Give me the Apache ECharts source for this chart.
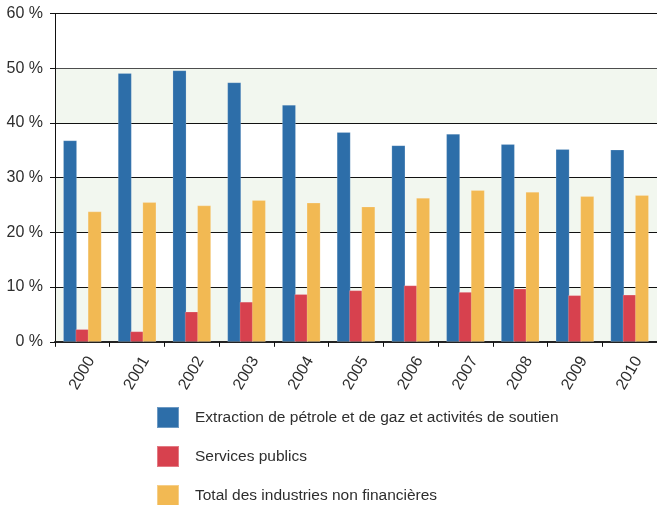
<!DOCTYPE html>
<html>
<head>
<meta charset="utf-8">
<script src="https://cdn.jsdelivr.net/npm/echarts@6/dist/echarts.min.js"></script>
<style>
  html, body { margin: 0; padding: 0; background: #fff; }
  #chart { width: 657px; height: 505px; }
</style>
</head>
<body>
<div id="chart"></div>
<script>
// Share of each sector, per year (%)
const years = ['2000', '2001', '2002', '2003', '2004', '2005', '2006', '2007', '2008', '2009', '2010'];
const oilGas = [36.8, 49.1, 49.6, 47.4, 43.3, 38.3, 35.9, 38.0, 36.1, 35.2, 35.1];
const utilities = [2.3, 1.9, 5.5, 7.3, 8.7, 9.4, 10.3, 9.1, 9.7, 8.5, 8.6];
const nonFinancial = [23.8, 25.5, 24.9, 25.9, 25.4, 24.7, 26.3, 27.7, 27.4, 26.6, 26.8];

const seriesNames = [
  'Extraction de pétrole et de gaz et activités de soutien',
  'Services publics',
  'Total des industries non financières'
];
const seriesColors = ['#2d6ea9', '#d7414e', '#f2b953'];

const textColor = '#2e2e2e';
const baseFont = 'Liberation Sans, Arial, sans-serif';

const chart = echarts.init(document.getElementById('chart'), null, { renderer: 'canvas' });

function barSeries(name, data, color) {
  return {
    name: name,
    type: 'bar',
    data: data,
    barWidth: '25%',
    barGap: '-10%',
    itemStyle: { color: color, borderColor: 'rgba(255,255,255,0.3)', borderWidth: 0.6 },
    emphasis: { disabled: true }
  };
}

chart.setOption({
  animation: false,
  backgroundColor: '#ffffff',
  textStyle: { fontFamily: baseFont, color: textColor },
  grid: { left: 55, top: 13.5, width: 608, height: 328.3, containLabel: false },
  legend: {
    orient: 'vertical',
    left: 156,
    top: 406,
    height: 110,
    padding: 0,
    itemWidth: 22,
    itemHeight: 21,
    itemGap: 16,
    icon: 'rect',
    selectedMode: false,
    data: seriesNames,
    textStyle: { fontFamily: baseFont, fontSize: 15.5, color: textColor, padding: [0, 0, 0, 11] }
  },
  xAxis: {
    type: 'category',
    data: years,
    boundaryGap: true,
    axisLine: { lineStyle: { color: '#222', width: 2 } },
    axisTick: { show: true, length: 5, lineStyle: { color: '#111', width: 1 } },
    axisLabel: {
      rotate: 60,
      fontSize: 16,
      color: textColor,
      fontFamily: baseFont,
      margin: 11,
      verticalAlign: 'top',
      padding: [2, 0, 0, 0]
    }
  },
  yAxis: {
    type: 'value',
    min: 0,
    max: 60,
    interval: 10,
    axisLine: { show: true, lineStyle: { color: '#111', width: 1 } },
    axisTick: { show: true, length: 5, lineStyle: { color: '#111' } },
    axisLabel: {
      formatter: '{value} %',
      fontSize: 16,
      color: textColor,
      fontFamily: baseFont,
      margin: 12
    },
    splitLine: {
      show: true,
      lineStyle: { color: ['#111', '#111', '#111', '#111', '#111', '#4d4d4d', '#111'], width: 1.2 }
    },
    splitArea: {
      show: true,
      areaStyle: { color: ['#f2f7ef', '#ffffff'] }
    }
  },
  series: [
    barSeries(seriesNames[0], oilGas, seriesColors[0]),
    barSeries(seriesNames[1], utilities, seriesColors[1]),
    barSeries(seriesNames[2], nonFinancial, seriesColors[2])
  ]
});
</script>
</body>
</html>
